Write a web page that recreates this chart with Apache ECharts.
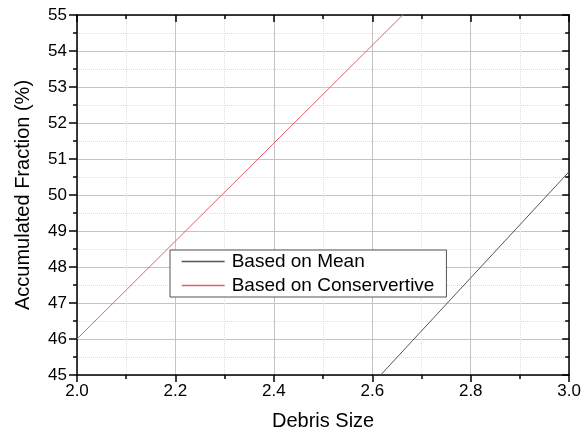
<!DOCTYPE html>
<html>
<head>
<meta charset="utf-8">
<script src="https://cdn.jsdelivr.net/npm/echarts@6/dist/echarts.min.js"></script>
<style>html,body{margin:0;padding:0;background:#fff}#c{width:584px;height:436px}</style>
</head>
<body>
<div id="c"></div>
<script>
const seriesNames = ['Based on Mean', 'Based on Conservertive'];
const seriesColors = ['#555555', '#e0606e'];
const meanPoints = [[2.5, 43.27], [2.6, 44.75], [2.8, 47.70], [3.0, 50.65]];
const conservPoints = [[2.0, 46.00], [2.2, 48.72], [2.4, 51.44], [2.6, 54.16], [2.8, 56.88]];
const xAxisName = 'Debris Size';
const yAxisName = 'Accumulated Fraction (%)';
const xRange = [2.0, 3.0];
const yRange = [45, 55];

const font = 'Liberation Sans, Arial, sans-serif';
const chart = echarts.init(document.getElementById('c'), null, {renderer: 'canvas'});
const axisLine = {show: true, lineStyle: {color: '#000', width: 1.5}};
chart.setOption({
  animation: false,
  backgroundColor: '#fff',
  grid: {left: 77, right: 12, top: 15, bottom: 59, containLabel: false},
  legend: {
    orient: 'vertical', left: 170, top: 250,
    data: seriesNames.map((n, i) => ({
      name: n,
      itemStyle: {opacity: 0},
      lineStyle: {color: seriesColors[i], width: 1.3, opacity: 1}
    })),
    itemWidth: 43, itemHeight: 14, itemGap: 5,
    padding: [2, 12, 2, 11],
    borderColor: '#555', borderWidth: 1, backgroundColor: '#fff',
    textStyle: {fontFamily: font, fontSize: 19, color: '#000', padding: [0, 0, 0, 2]}
  },
  xAxis: [{
    type: 'value', min: xRange[0], max: xRange[1], interval: 0.2, position: 'bottom',
    name: xAxisName, nameLocation: 'middle', nameGap: 36,
    nameTextStyle: {fontFamily: font, fontSize: 20, color: '#000'},
    axisLine: axisLine,
    axisTick: {show: true, inside: false, length: 7, lineStyle: {color: '#000', width: 1.5}},
    minorTick: {show: true, splitNumber: 2, length: 4, lineStyle: {color: '#000', width: 1.5}},
    axisLabel: {fontFamily: font, fontSize: 17, color: '#000', margin: 8,
      formatter: v => v.toFixed(1)},
    splitLine: {show: true, lineStyle: {color: '#c4c4c4', width: 1}},
    minorSplitLine: {show: true, lineStyle: {color: '#dedede', width: 1, type: 'dotted'}}
  }, {
    type: 'value', min: xRange[0], max: xRange[1], interval: 0.2, position: 'top',
    axisLine: axisLine,
    axisTick: {show: true, inside: true, length: 7, lineStyle: {color: '#000', width: 1.5}},
    minorTick: {show: true, splitNumber: 2, length: 4, lineStyle: {color: '#000', width: 1.5}},
    axisLabel: {show: false}, splitLine: {show: false}
  }],
  yAxis: [{
    type: 'value', min: yRange[0], max: yRange[1], interval: 1, position: 'left',
    name: yAxisName, nameLocation: 'middle', nameGap: 44, nameRotate: 90,
    nameTextStyle: {fontFamily: font, fontSize: 20, color: '#000'},
    axisLine: axisLine,
    axisTick: {show: true, inside: false, length: 8, lineStyle: {color: '#000', width: 1.5}},
    minorTick: {show: true, splitNumber: 2, length: 4, lineStyle: {color: '#000', width: 1.5}},
    axisLabel: {fontFamily: font, fontSize: 17, color: '#000', margin: 10},
    splitLine: {show: true, lineStyle: {color: '#c4c4c4', width: 1}},
    minorSplitLine: {show: true, lineStyle: {color: '#dedede', width: 1, type: 'dotted'}}
  }, {
    type: 'value', min: yRange[0], max: yRange[1], interval: 1, position: 'right',
    axisLine: axisLine,
    axisTick: {show: true, inside: true, length: 7, lineStyle: {color: '#000', width: 1.5}},
    minorTick: {show: true, splitNumber: 2, length: 4, lineStyle: {color: '#000', width: 1.5}},
    axisLabel: {show: false}, splitLine: {show: false}
  }],
  series: [{
    name: seriesNames[0], type: 'line', data: meanPoints, showSymbol: false, symbol: 'none',
    clip: true, color: seriesColors[0], lineStyle: {color: seriesColors[0], width: 1}
  }, {
    name: seriesNames[1], type: 'line', data: conservPoints, showSymbol: false, symbol: 'none',
    clip: true, color: seriesColors[1], lineStyle: {color: seriesColors[1], width: 1}
  }]
});
</script>
</body>
</html>
